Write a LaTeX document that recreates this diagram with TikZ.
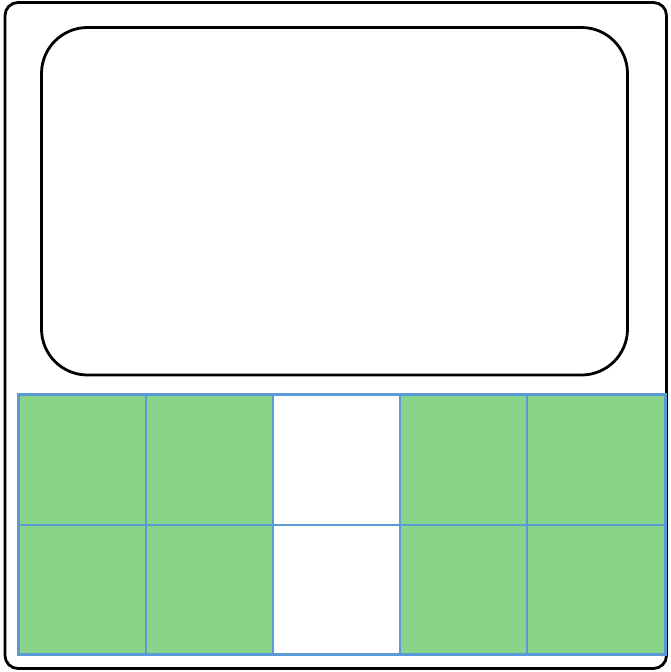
\documentclass[tikz,border=0pt]{standalone}
\usepackage{tikz}
\usetikzlibrary{calc, positioning}

\definecolor{cellgreen}{HTML}{88D488}
\definecolor{cellblue}{HTML}{5B9BD5}

\begin{document}
\begin{tikzpicture}[x=1pt, y=-1pt,
        frame/.style={draw=black, line width=2.8pt, fill=white},
        cell/.style={rectangle, draw=cellblue, line width=2pt,
                     minimum height=129.5pt,
                     inner sep=0pt, anchor=north west},
        on/.style={fill=cellgreen},
        off/.style={fill=white},
    ]
    \useasboundingbox (0,0) rectangle (670,672);

    % ====== 外框 ======
    \draw[frame, rounded corners=13pt] (5,2.5) rectangle (666.5,668.5);

    % ====== 屏幕 ======
    \draw[frame, rounded corners=46pt] (41.5,27.5) rectangle (627.5,375);

    % ====== 格子 ======
    \foreach \x/\w/\kind [count=\i from 0] in {18/127/on, 145/127/on, 272/127/off, 399/127/on, 526/138/on} {
        \node[cell, \kind, minimum width=\w pt] (t\i) at (\x, 394) {};
        \node[cell, \kind, minimum width=\w pt] (b\i) at (\x, 523.5) {};
    }
    \draw[draw=cellblue, line width=2pt] (t0.north west) rectangle (b4.south east);
\end{tikzpicture}
\end{document}
